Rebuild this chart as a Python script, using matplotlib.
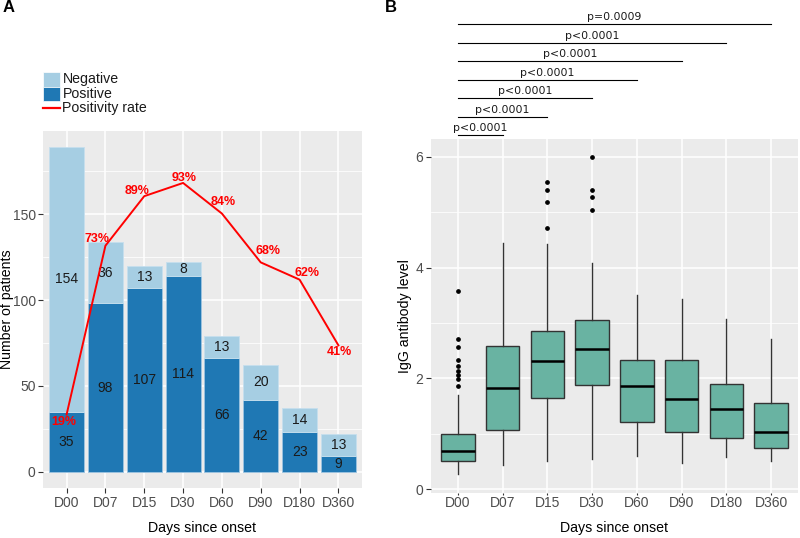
import numpy as np
import matplotlib
matplotlib.use("Agg")
import matplotlib.pyplot as plt
from matplotlib.patches import Rectangle
from matplotlib.lines import Line2D

plt.rcParams['font.family'] = ['Liberation Sans', 'DejaVu Sans']

# ---- data ----
days = ['D00', 'D07', 'D15', 'D30', 'D60', 'D90', 'D180', 'D360']
positive = [35, 98, 107, 114, 66, 42, 23, 9]
negative = [154, 36, 13, 8, 13, 20, 14, 13]
rate_scale = 1.8  # positivity rate (%) drawn on the patient-count axis

box_q1 = [0.51, 1.07, 1.64, 1.88, 1.22, 1.03, 0.93, 0.75]
box_med = [0.69, 1.82, 2.31, 2.53, 1.87, 1.63, 1.45, 1.04]
box_q3 = [0.99, 2.59, 2.86, 3.05, 2.34, 2.33, 1.90, 1.55]
whis_lo = [0.28, 0.43, 0.51, 0.55, 0.60, 0.48, 0.58, 0.51]
whis_hi = [1.71, 4.45, 4.43, 4.09, 3.51, 3.44, 3.08, 2.71]
outliers = [
    [3.57, 2.71, 2.56, 2.34, 2.23, 2.14, 2.06, 1.99, 1.87],
    [],
    [5.54, 5.40, 5.18, 4.72],
    [6.00, 5.40, 5.27, 5.03],
    [], [], [], [],
]
comp_targets = ['D07', 'D15', 'D30', 'D60', 'D90', 'D180', 'D360']
comp_pvals = ['p<0.0001'] * 6 + ['p=0.0009']

# ---- style ----
W, H = 800, 538
neg_col = '#A6CEE3'
pos_col = '#1F78B4'
box_col = '#69B3A2'
panel_bg = '#EBEBEB'
tick_col = '#4D4D4D'

fig = plt.figure(figsize=(W / 100, H / 100), dpi=100)


def fig_rect(l, t, r, b):
    return [l / W, 1 - b / H, (r - l) / W, (b - t) / H]


def gg_axes(ax, major, minor):
    ax.set_facecolor(panel_bg)
    for s in ax.spines.values():
        s.set_visible(False)
    ax.set_yticks(major)
    ax.set_yticks(minor, minor=True)
    ax.grid(True, which='major', color='white', lw=1.1)
    ax.grid(True, which='minor', axis='y', color='white', lw=0.55)
    ax.tick_params(which='minor', length=0)
    ax.tick_params(which='major', length=3.5, width=0.8, color='#333333',
                   labelcolor=tick_col, labelsize=10, pad=2)
    ax.set_axisbelow(True)


x = np.arange(1, len(days) + 1)

# ---- panel A ----
axA = fig.add_axes(fig_rect(43.3, 131, 361.7, 488))
gg_axes(axA, [0, 50, 100, 150], [25, 75, 125, 175])
axA.bar(x, positive, width=0.9, color=pos_col, edgecolor='#9CC3E0', lw=0.6)
axA.bar(x, negative, bottom=positive, width=0.9, color=neg_col, edgecolor='#C6DFEE', lw=0.6)
for xi, p, n in zip(x, positive, negative):
    axA.text(xi, p / 2, str(p), ha='center', va='center', fontsize=10, color='#1a1a1a')
    axA.text(xi, p + n / 2, str(n), ha='center', va='center', fontsize=10, color='#1a1a1a')

rate = [100 * p / (p + n) for p, n in zip(positive, negative)]
rate_y = [r * rate_scale for r in rate]
axA.plot(x, rate_y, color='#FF0000', lw=1.4, zorder=3)
label_off = [(-3, -7), (-8, 7), (-7, 5), (1, 5), (1, 12), (7, 11), (7, 7), (1, -7)]
for xi, yi, r, (dx, dy) in zip(x, rate_y, rate, label_off):
    axA.annotate(f'{r:.0f}%', (xi, yi), xytext=(dx, dy), textcoords='offset pixels',
                 ha='center', va='center', color='#FF0000', fontsize=9, fontweight='bold',
                 family=['Liberation Sans Narrow', 'Liberation Sans'], zorder=4)
axA.set_xlim(0.4, 8.6)
axA.set_ylim(-9.45, 198.45)
axA.set_xticks(x)
axA.set_xticklabels(days)
axA.set_xlabel('Days since onset', fontsize=10.2, va='center')
axA.set_ylabel('Number of patients', fontsize=10.2, va='center')
axA.xaxis.set_label_coords(0.5, -0.112)
axA.yaxis.set_label_coords(-0.114, 0.5)

# legend for panel A, drawn in figure pixels
fig.add_artist(Rectangle((43.3 / W, 1 - 86.7 / H), 16.7 / W, 14.4 / H,
                         transform=fig.transFigure, facecolor=neg_col, edgecolor='white', lw=0.5))
fig.add_artist(Rectangle((43.3 / W, 1 - 101.1 / H), 16.7 / W, 14.4 / H,
                         transform=fig.transFigure, facecolor=pos_col, edgecolor='white', lw=0.5))
fig.add_artist(Line2D([43.3 / W, 60 / W], [1 - 107.7 / H] * 2, transform=fig.transFigure,
                      color='#FF0000', lw=1.6))
for lab, yy in zip(['Negative', 'Positive', 'Positivity rate'], [79, 93.5, 107.7]):
    fig.text(62.5 / W, 1 - yy / H, lab, ha='left', va='center', fontsize=10.2, color='#1a1a1a')

# ---- panel B ----
axB = fig.add_axes(fig_rect(431, 139, 798, 493))
gg_axes(axB, [0, 2, 4, 6], [1, 3, 5])
stats = []
for i, d in enumerate(days):
    stats.append(dict(label=d, q1=box_q1[i], med=box_med[i], q3=box_q3[i],
                      whislo=whis_lo[i], whishi=whis_hi[i], fliers=outliers[i]))
axB.bxp(stats, positions=x, widths=0.75, patch_artist=True, showcaps=False,
        boxprops=dict(facecolor=box_col, edgecolor='#333333', lw=1.0),
        whiskerprops=dict(color='#333333', lw=1.0),
        medianprops=dict(color='black', lw=1.8),
        flierprops=dict(marker='o', markersize=2.4, markerfacecolor='black',
                        markeredgecolor='black'))
axB.set_xlim(0.4, 8.6)
axB.set_ylim(-0.067, 6.32)
axB.set_xticks(x)
axB.set_xticklabels(days)
axB.tick_params(axis='x', length=1.5, pad=1)
axB.set_xlabel('Days since onset', fontsize=10.2, va='center')
axB.set_ylabel('IgG antibody level', fontsize=10.2, va='center')
axB.xaxis.set_label_coords(0.5, -0.099)
axB.yaxis.set_label_coords(-0.071, 0.5)

# significance brackets above panel B
br_base, br_step = 6.385, 0.335
for i, (t, p) in enumerate(zip(comp_targets, comp_pvals)):
    xe = days.index(t) + 1
    yb = br_base + i * br_step
    axB.plot([1, xe], [yb, yb], color='black', lw=0.8, clip_on=False)
    axB.annotate(p, ((1 + xe) / 2, yb), xytext=(0, 2), textcoords='offset pixels',
                 ha='center', va='bottom', fontsize=7.8, family='DejaVu Sans',
                 color='#1a1a1a', annotation_clip=False)

fig.text(3 / W, 1 - 8 / H, 'A', fontsize=12, fontweight='bold', va='center', ha='left')
fig.text(385 / W, 1 - 8 / H, 'B', fontsize=12, fontweight='bold', va='center', ha='left')

fig.savefig('out.png', dpi=100)
